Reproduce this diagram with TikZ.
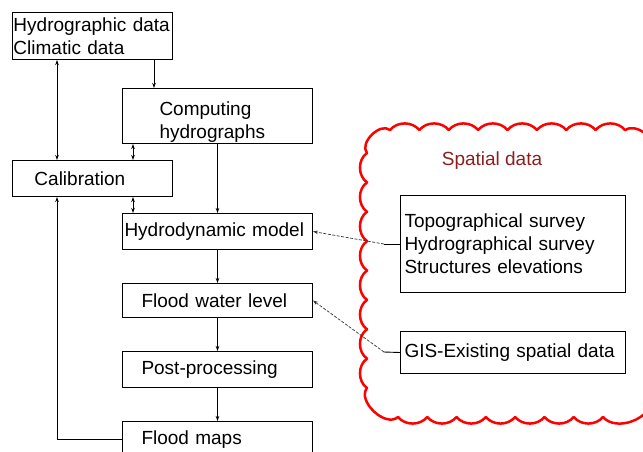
\documentclass[tikz,border=0pt]{standalone}
\usepackage{fontspec}
\setmainfont{Liberation Sans}
\usetikzlibrary{arrows.meta}
\definecolor{spatialred}{RGB}{140,30,30}
\begin{document}
\begin{tikzpicture}[x=1pt,y=-1pt,
  box/.style={draw, line width=1pt, inner sep=0pt, anchor=north west, align=left,
    font=\fontsize{19}{23}\selectfont},
  conn/.style={line width=0.9pt, >={Stealth[length=5pt,width=3.5pt]}},
  dconn/.style={line width=0.7pt, black!80, dash pattern=on 3pt off 1.5pt, >={Stealth[length=5pt,width=3.5pt]}},
  cloud/.style={red, line width=2.5pt, line join=round}
]
\useasboundingbox (0,0) rectangle (643,451);
\clip (0,0) rectangle (643,451);
% cloud
\draw[cloud] (367,153) to[bend left=85] (390,130)
  foreach \i in {1,...,8} { to[bend left=50] ({390+29.375*\i},130) }
  to[bend left=70] (652,150) -- (652,398) to[bend left=70] (603,417)
  foreach \i in {1,...,7} { to[bend left=50] ({603-29.286*\i},417) }
  to[bend left=85] (367,388)
  foreach \i in {1,...,8} { to[bend left=55] (367,{388-29.375*\i}) }
  -- cycle;
\node[font=\fontsize{19}{23}\selectfont, text=spatialred] (sp) at (492,161) {Spatial data};
% boxes
\node[box, text width=160, minimum height=47] (hyd) at (12,12) {\hspace*{1pt}Hydrographic data\\\hspace*{1pt}Climatic data};
\node[box, text width=190, minimum height=55] (cmp) at (122,88) {\rule{0pt}{25pt}\hspace*{37pt}Computing\\\hspace*{37pt}hydrographs};
\node[box, text width=160, minimum height=36] (cal) at (12,160) {\hspace*{22pt}Calibration};
\node[box, text width=190, minimum height=36] (dyn) at (122,213) {\hspace*{2pt}Hydrodynamic model};
\node[box, text width=190, minimum height=34] (fwl) at (122,283) {\hspace*{19pt}Flood water level};
\node[box, text width=190, minimum height=36] (post) at (122,351) {\hspace*{19pt}Post-processing};
\node[box, text width=190, minimum height=36] (maps) at (122,421) {\hspace*{19pt}Flood maps};
\node[box, text width=225, minimum height=97] (topo) at (400,195) {\hspace*{4pt}Topographical survey\\\hspace*{4pt}Hydrographical survey\\\hspace*{4pt}Structures elevations};
\node[box, text width=225, minimum height=42] (gis) at (400,331) {\hspace*{4pt}GIS-Existing spatial data};
% connectors
\draw[conn,<->] ([xshift=45pt]hyd.south west) -- ([xshift=45pt]cal.north west);
\draw[conn,->] ([xshift=142pt]hyd.south west) -- ([xshift=32pt]cmp.north west);
\draw[conn,<->] ([xshift=11pt]cmp.south west) -- ([xshift=121pt]cal.north west);
\draw[conn,<->] ([xshift=121pt]cal.south west) -- ([xshift=11pt]dyn.north west);
\draw[conn,->] (cmp.south) -- (dyn.north);
\draw[conn,->] (dyn.south) -- (fwl.north);
\draw[conn,->] (fwl.south) -- (post.north);
\draw[conn,->] (post.south) -- (maps.north);
\draw[conn,->] (maps.west) -| ([xshift=45pt]cal.south west);
\coordinate (t1) at (384,244);
\coordinate (g1) at (384,352);
\draw[conn] (topo.west) -- (t1);
\draw[dconn,->] (t1) -- (dyn.east);
\draw[conn] (gis.west) -- (g1);
\draw[dconn,->] (g1) -- (fwl.east);
\end{tikzpicture}
\end{document}
